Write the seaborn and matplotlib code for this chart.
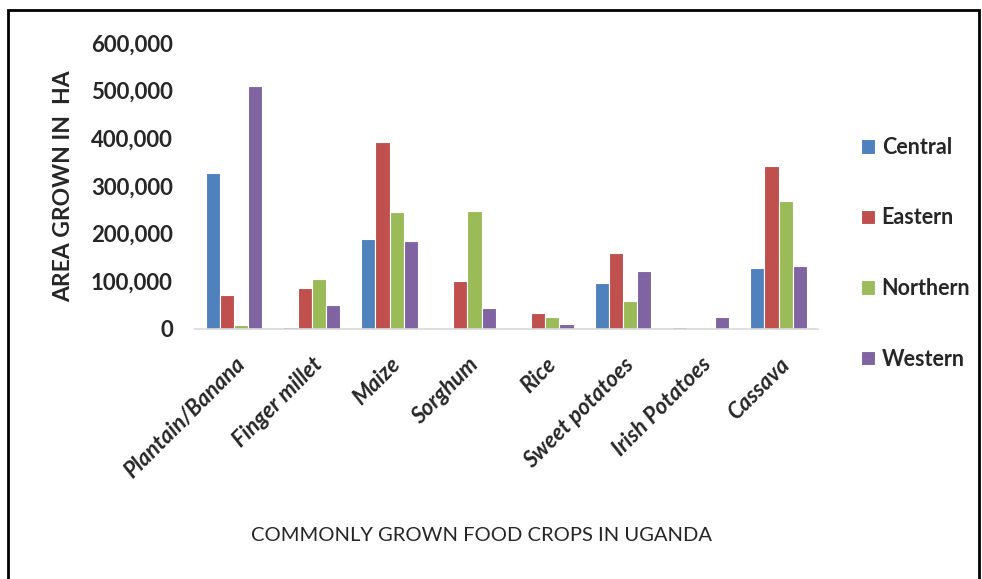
import numpy as np
import pandas as pd
import matplotlib
matplotlib.use("Agg")
import matplotlib.pyplot as plt
import matplotlib.ticker as mticker
from matplotlib.patches import Rectangle
import seaborn as sns

# ---------------------------
# Data (hectares)
# ---------------------------
crops = ["Plantain/Banana", "Finger millet", "Maize", "Sorghum", "Rice",
         "Sweet potatoes", "Irish Potatoes", "Cassava"]
regions = ["Central", "Eastern", "Northern", "Western"]

central = [326000, 4000, 188000, 0, 0, 97000, 4000, 127000]
eastern = [71000, 86000, 391000, 100000, 34000, 160000, 0, 342000]
northern = [8000, 105000, 245000, 248000, 24000, 58000, 0, 269000]
western = [510000, 50000, 185000, 43000, 10000, 121000, 24000, 131000]

colors = ["#4F81BD", "#C0504D", "#9BBB59", "#8064A2"]

df = pd.DataFrame({
    "crop": crops * 4,
    "region": np.repeat(regions, len(crops)),
    "area": central + eastern + northern + western,
})

# ---------------------------
# Plot
# ---------------------------
sns.set_style("white")
plt.rcParams["font.family"] = ["Lato", "DejaVu Sans"]

fig = plt.figure(figsize=(9.82, 5.79), dpi=100)
ax = fig.add_axes([0.1986, 0.432, 0.634, 0.494])

sns.barplot(data=df, x="crop", y="area", hue="region", order=crops,
            hue_order=regions, palette=colors, saturation=1, width=0.73,
            gap=0, edgecolor="white", linewidth=0.8, ax=ax)

ax.set_ylim(0, 600000)
ax.yaxis.set_major_locator(mticker.MultipleLocator(100000))
ax.yaxis.set_major_formatter(mticker.FuncFormatter(lambda v, p: f"{int(v):,}"))
ax.set_xlim(-0.5, len(crops) - 0.5)

for side in ["top", "right", "left"]:
    ax.spines[side].set_visible(False)
ax.spines["bottom"].set_color("#d9d9d9")
ax.spines["bottom"].set_linewidth(1.2)
ax.tick_params(axis="both", length=0)
ax.tick_params(axis="y", pad=16)

for lbl in ax.get_yticklabels():
    lbl.set_fontsize(16)
    lbl.set_fontweight("bold")
ax.set_xticks(range(len(crops)))
ax.set_xticklabels(crops, rotation=45, ha="right", rotation_mode="anchor",
                   fontsize=16, fontweight="bold", fontstyle="italic")
ax.tick_params(axis="x", pad=18)

ax.set_ylabel("AREA GROWN IN  HA", fontsize=16.5, fontweight="bold", labelpad=12)
ax.set_xlabel("")
fig.text(0.49, 0.075, "COMMONLY GROWN FOOD CROPS IN UGANDA", ha="center",
         va="center", fontsize=14.5)

leg = ax.legend(loc="upper left", bbox_to_anchor=(0.866, 0.782),
                bbox_transform=fig.transFigure, frameon=False,
                fontsize=15.5, labelspacing=2.3, handlelength=0.65,
                handleheight=0.65, handletextpad=0.3, borderpad=0)
for t in leg.get_texts():
    t.set_fontweight("bold")

# outer frame
fig.add_artist(Rectangle((0.008, -0.02), 0.989, 1.002, transform=fig.transFigure,
                         fill=False, edgecolor="black", linewidth=2))

fig.savefig("out.png", dpi=100)
